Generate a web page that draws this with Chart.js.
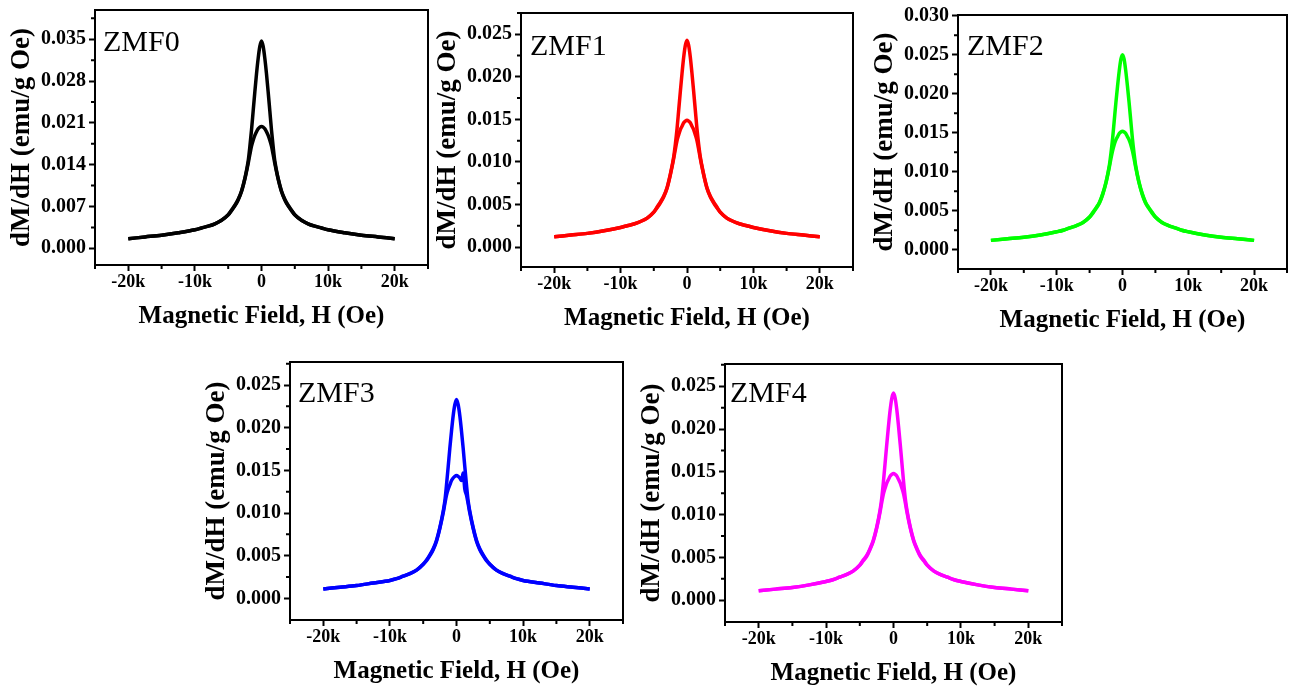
<!DOCTYPE html>
<html><head><meta charset="utf-8">
<script src="https://cdn.jsdelivr.net/npm/chart.js@4.4.0/dist/chart.umd.min.js"></script>
<style>
html,body{margin:0;padding:0;background:#fff;width:1290px;height:690px;overflow:hidden;}
.panel{position:absolute;}
.panel canvas{display:block;}
</style></head><body>
<div id="p0" class="panel"><canvas id="c0"></canvas></div>
<div id="p1" class="panel"><canvas id="c1"></canvas></div>
<div id="p2" class="panel"><canvas id="c2"></canvas></div>
<div id="p3" class="panel"><canvas id="c3"></canvas></div>
<div id="p4" class="panel"><canvas id="c4"></canvas></div>
<script>
// ---- data ----
const fieldOe = [-20000,-17500,-15000,-12500,-10000,-9000,-8000,-7000,-6000,-5000,-4500,-4000,-3500,-3000,-2500,-2000,-1750,-1500,-1250,-1000,-750,-500,-250,0,250,500,750,1000,1250,1500,1750,2000,2500,3000,3500,4000,4500,5000,6000,7000,8000,9000,10000,12500,15000,17500,20000];

const zmf0Low  = [0.0016,0.0019,0.0022,0.0026,0.0031,0.0034,0.0037,0.0041,0.0047,0.0056,0.0063,0.0071,0.0081,0.0095,0.0116,0.0142,0.0157,0.0171,0.0181,0.0189,0.0195,0.0200,0.0203,0.0204,0.0203,0.0200,0.0195,0.0189,0.0181,0.0171,0.0157,0.0142,0.0116,0.0095,0.0081,0.0071,0.0063,0.0056,0.0047,0.0041,0.0037,0.0034,0.0031,0.0026,0.0022,0.0019,0.0016];
const zmf0High = [0.0016,0.0019,0.0022,0.0026,0.0031,0.0034,0.0037,0.0041,0.0047,0.0056,0.0064,0.0072,0.0082,0.0096,0.0117,0.0146,0.0170,0.0198,0.0230,0.0262,0.0292,0.0318,0.0338,0.0347,0.0338,0.0318,0.0292,0.0262,0.0230,0.0198,0.0170,0.0146,0.0117,0.0096,0.0082,0.0072,0.0064,0.0056,0.0047,0.0041,0.0037,0.0034,0.0031,0.0026,0.0022,0.0019,0.0016];

const zmf1Low  = [0.0012,0.0014,0.0016,0.0019,0.0023,0.0025,0.0027,0.0030,0.0034,0.0041,0.0046,0.0052,0.0059,0.0069,0.0085,0.0104,0.0115,0.0125,0.0132,0.0138,0.0142,0.0146,0.0148,0.0149,0.0148,0.0146,0.0142,0.0138,0.0132,0.0125,0.0115,0.0104,0.0085,0.0069,0.0059,0.0052,0.0046,0.0041,0.0034,0.0030,0.0027,0.0025,0.0023,0.0019,0.0016,0.0014,0.0012];
const zmf1High = [0.0012,0.0014,0.0016,0.0019,0.0023,0.0025,0.0027,0.0030,0.0034,0.0041,0.0047,0.0053,0.0060,0.0070,0.0086,0.0106,0.0121,0.0139,0.0161,0.0183,0.0204,0.0223,0.0237,0.0243,0.0237,0.0223,0.0204,0.0183,0.0161,0.0139,0.0121,0.0106,0.0086,0.0070,0.0060,0.0053,0.0047,0.0041,0.0034,0.0030,0.0027,0.0025,0.0023,0.0019,0.0016,0.0014,0.0012];

const zmf2Low  = [0.0012,0.0014,0.0016,0.0019,0.0023,0.0025,0.0028,0.0031,0.0035,0.0042,0.0047,0.0053,0.0060,0.0071,0.0086,0.0106,0.0117,0.0127,0.0135,0.0141,0.0145,0.0149,0.0151,0.0152,0.0151,0.0149,0.0145,0.0141,0.0135,0.0127,0.0117,0.0106,0.0086,0.0071,0.0060,0.0053,0.0047,0.0042,0.0035,0.0031,0.0028,0.0025,0.0023,0.0019,0.0016,0.0014,0.0012];
const zmf2High = [0.0012,0.0014,0.0016,0.0019,0.0023,0.0025,0.0028,0.0031,0.0035,0.0042,0.0048,0.0054,0.0061,0.0072,0.0087,0.0108,0.0124,0.0143,0.0166,0.0189,0.0210,0.0229,0.0244,0.0250,0.0244,0.0229,0.0210,0.0189,0.0166,0.0143,0.0124,0.0108,0.0087,0.0072,0.0061,0.0054,0.0048,0.0042,0.0035,0.0031,0.0028,0.0025,0.0023,0.0019,0.0016,0.0014,0.0012];

const zmf3Low  = [0.0011,0.0013,0.0015,0.0018,0.0021,0.0023,0.0026,0.0029,0.0033,0.0040,0.0044,0.0050,0.0057,0.0067,0.0082,0.0100,0.0111,0.0121,0.0128,0.0133,0.0138,0.0141,0.0143,0.0144,0.0143,0.0141,0.0138,0.0147,0.0128,0.0121,0.0111,0.0100,0.0082,0.0067,0.0057,0.0050,0.0044,0.0040,0.0033,0.0029,0.0026,0.0023,0.0021,0.0018,0.0015,0.0013,0.0011];
const zmf3High = [0.0011,0.0013,0.0015,0.0018,0.0021,0.0023,0.0026,0.0029,0.0033,0.0040,0.0045,0.0051,0.0058,0.0068,0.0083,0.0102,0.0114,0.0133,0.0154,0.0176,0.0196,0.0214,0.0227,0.0233,0.0227,0.0214,0.0196,0.0176,0.0154,0.0133,0.0114,0.0102,0.0083,0.0068,0.0058,0.0051,0.0045,0.0040,0.0033,0.0029,0.0026,0.0023,0.0021,0.0018,0.0015,0.0013,0.0011];

const zmf4Low  = [0.0011,0.0013,0.0015,0.0018,0.0022,0.0024,0.0027,0.0030,0.0034,0.0041,0.0046,0.0051,0.0059,0.0069,0.0084,0.0103,0.0114,0.0124,0.0131,0.0137,0.0141,0.0145,0.0147,0.0148,0.0147,0.0145,0.0141,0.0137,0.0131,0.0124,0.0114,0.0103,0.0084,0.0069,0.0059,0.0051,0.0046,0.0041,0.0034,0.0030,0.0027,0.0024,0.0022,0.0018,0.0015,0.0013,0.0011];
const zmf4High = [0.0011,0.0013,0.0015,0.0018,0.0022,0.0024,0.0027,0.0030,0.0034,0.0041,0.0047,0.0052,0.0060,0.0070,0.0085,0.0105,0.0119,0.0138,0.0160,0.0182,0.0203,0.0222,0.0236,0.0242,0.0236,0.0222,0.0203,0.0182,0.0160,0.0138,0.0119,0.0105,0.0085,0.0070,0.0060,0.0052,0.0047,0.0041,0.0034,0.0030,0.0027,0.0024,0.0022,0.0018,0.0015,0.0013,0.0011];

const sampleNames = ['ZMF0','ZMF1','ZMF2','ZMF3','ZMF4'];
const xTickValues = [-20000,-10000,0,10000,20000];
const xTickLabels = ['-20k','-10k','0','10k','20k'];
const xMinorValues = [-25000,-15000,-5000,5000,15000,25000];
const yTicksZmf0 = [0,0.007,0.014,0.021,0.028,0.035];
const yTicksZmf1 = [0,0.005,0.010,0.015,0.020,0.025];
const yTicksZmf2 = [0,0.005,0.010,0.015,0.020,0.025,0.030];
const yTicksZmf3 = [0,0.005,0.010,0.015,0.020,0.025];
const yTicksZmf4 = [0,0.005,0.010,0.015,0.020,0.025];
const yAxisTitle = 'dM/dH (emu/g Oe)';
const xAxisTitle = 'Magnetic Field, H (Oe)';

// ---- layout / style ----
const SERIF = "'Liberation Serif', 'Times New Roman', serif";
const YW = 95, XH = 75, PT = 14, PR = 2;
const panels = [
  {name:sampleNames[0], high:zmf0High, low:zmf0Low, color:'#000000', ticks:yTicksZmf0, ymin:-0.0028, ymax:0.0399, box:{l:95,t:10,r:428,b:265}, lab:{dx:8,dy:41}},
  {name:sampleNames[1], high:zmf1High, low:zmf1Low, color:'#ff0000', ticks:yTicksZmf1, ymin:-0.00235, ymax:0.0275, box:{l:521,t:13,r:853,b:267}, lab:{dx:9,dy:42}},
  {name:sampleNames[2], high:zmf2High, low:zmf2Low, color:'#00ff00', ticks:yTicksZmf2, ymin:-0.00247, ymax:0.0301, box:{l:958,t:15,r:1287,b:269}, lab:{dx:9,dy:40}},
  {name:sampleNames[3], high:zmf3High, low:zmf3Low, color:'#0000ff', ticks:yTicksZmf3, ymin:-0.00254, ymax:0.0277, box:{l:290,t:362,r:623,b:620}, lab:{dx:8,dy:40}},
  {name:sampleNames[4], high:zmf4High, low:zmf4Low, color:'#ff00ff', ticks:yTicksZmf4, ymin:-0.00254, ymax:0.0276, box:{l:725,t:364,r:1062,b:622}, lab:{dx:5,dy:38}},
];

const framePlugin = {
  id: 'frame',
  afterDraw(chart, args, opts) {
    const ctx = chart.ctx, a = chart.chartArea;
    const xs = chart.scales.x, ys = chart.scales.y;
    ctx.save();
    ctx.strokeStyle = '#000';
    ctx.lineWidth = 2;
    ctx.beginPath();
    xMinorValues.forEach(v => {
      const px = xs.getPixelForValue(v);
      ctx.moveTo(px, a.bottom); ctx.lineTo(px, a.bottom + 4);
    });
    const tk = opts.ticks, step = tk[1] - tk[0];
    tk.forEach(v => {
      const m = v + step / 2;
      if (m <= ys.max) {
        const py = ys.getPixelForValue(m);
        ctx.moveTo(a.left, py); ctx.lineTo(a.left - 4, py);
      }
    });
    ctx.stroke();
    ctx.strokeRect(a.left, a.top, a.right - a.left, a.bottom - a.top);
    ctx.fillStyle = '#000';
    ctx.font = '30px ' + SERIF;
    ctx.textAlign = 'left';
    ctx.textBaseline = 'alphabetic';
    ctx.fillText(opts.name, a.left + opts.dx, a.top + opts.dy);
    ctx.restore();
  }
};

panels.forEach((p, i) => {
  const div = document.getElementById('p' + i);
  const w = (p.box.r - p.box.l) + YW + PR;
  const h = PT + (p.box.b - p.box.t) + XH;
  div.style.left = (p.box.l - YW) + 'px';
  div.style.top = (p.box.t - PT) + 'px';
  div.style.width = w + 'px';
  div.style.height = h + 'px';
  const mk = arr => fieldOe.map((x, k) => ({x: x, y: arr[k]}));
  new Chart(document.getElementById('c' + i), {
    type: 'line',
    data: {
      datasets: [
        {data: mk(p.low), borderColor: p.color, borderWidth: 3.5, pointRadius: 0, cubicInterpolationMode: 'monotone', fill: false},
        {data: mk(p.high), borderColor: p.color, borderWidth: 3.5, pointRadius: 0, cubicInterpolationMode: 'monotone', fill: false}
      ]
    },
    options: {
      responsive: true,
      maintainAspectRatio: false,
      animation: false,
      events: [],
      layout: {padding: {top: PT, right: PR, left: 0, bottom: 0}},
      plugins: {
        legend: {display: false},
        tooltip: {enabled: false},
        frame: {name: p.name, ticks: p.ticks, dx: p.lab.dx, dy: p.lab.dy}
      },
      scales: {
        x: {
          type: 'linear', min: -25000, max: 25000,
          afterBuildTicks: s => { s.ticks = xTickValues.map(v => ({value: v})); },
          afterFit: s => { s.height = XH; s.paddingLeft = 0; s.paddingRight = 0; },
          grid: {drawOnChartArea: false, drawTicks: true, tickLength: 6, tickColor: '#000', tickWidth: 2},
          border: {display: true, color: '#000', width: 2},
          ticks: {
            padding: 1, color: '#000', maxRotation: 0, autoSkip: false,
            font: {family: SERIF, size: 18, weight: 'bold'},
            callback: v => { const k = xTickValues.indexOf(v); return k >= 0 ? xTickLabels[k] : ''; }
          },
          title: {display: true, text: xAxisTitle, color: '#000', font: {family: SERIF, size: 25, weight: 'bold'}, padding: {top: 0, bottom: 8}}
        },
        y: {
          type: 'linear', min: p.ymin, max: p.ymax,
          afterBuildTicks: s => { s.ticks = p.ticks.map(v => ({value: v})); },
          afterFit: s => { s.width = YW; s.paddingTop = 0; s.paddingBottom = 0; },
          grid: {drawOnChartArea: false, drawTicks: true, tickLength: 6, tickColor: '#000', tickWidth: 2},
          border: {display: true, color: '#000', width: 2},
          ticks: {
            padding: 3, color: '#000', autoSkip: false,
            font: {family: SERIF, size: 20, weight: 'bold'},
            callback: v => v.toFixed(3)
          },
          title: {display: true, text: yAxisTitle, color: '#000', font: {family: SERIF, size: 27, weight: 'bold'}, padding: {top: 6, bottom: 0}}
        }
      }
    },
    plugins: [framePlugin]
  });
});
</script>
</body></html>
